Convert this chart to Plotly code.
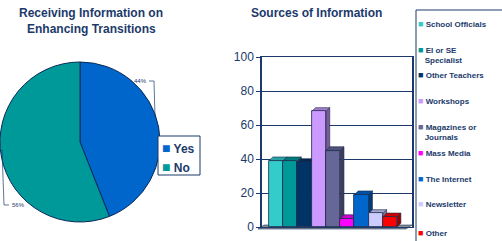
import plotly.graph_objects as go

pie_labels = ["Yes", "No"]
pie_values = [44, 56]
pie_colors = ["#0066CC", "#009999"]

src_names = ["School Officials", "EI or SE<br>Specialist", "Other Teachers", "Workshops",
             "Magazines or<br>Journals", "Mass Media", "The Internet", "Newsletter", "Other"]
src_values = [39, 39, 38, 68, 45, 5, 19, 8, 6]
src_colors = ["#33CCCC", "#009999", "#003366", "#CC99FF", "#666699",
              "#FF00FF", "#0066CC", "#CCCCFF", "#FF0000"]
y_ticks = [0, 20, 40, 60, 80, 100]

NAVY = "#1B3A6B"
FONT = "Liberation Sans"
W, H = 502, 241

def shade(hexc, f):
    h = hexc.lstrip("#")
    r, g, b = (int(h[i:i + 2], 16) for i in (0, 2, 4))
    return "rgb(%d,%d,%d)" % (int(r * f), int(g * f), int(b * f))

def px(x):
    return x / W

def py(y):
    return 1 - y / H

def sq(c, size):
    return f'<span style="color:{c};font-size:{size}px">■</span>'

fig = go.Figure()

fig.add_trace(go.Pie(
    labels=pie_labels, values=pie_values, sort=False, direction="clockwise",
    marker=dict(colors=pie_colors, line=dict(color="#0A2A5A", width=1)),
    textinfo="none", hoverinfo="label+percent",
    domain=dict(x=[0, px(160)], y=[py(222), py(62)]),
    showlegend=False,
))

# pie legend entries (text with coloured square glyph)
for lab, c in zip(pie_labels, pie_colors):
    fig.add_trace(go.Scatter(
        x=[None], y=[None], mode="none", legend="legend2", legendgroup="p" + lab,
        name=f'{sq(c, 14)}<b> {lab}</b>'))

cats = [n.replace("<br>", " ") for n in src_names]
for i, (n, v, c) in enumerate(zip(src_names, src_values, src_colors)):
    fig.add_trace(go.Bar(
        x=[cats[i]], y=[v], name=cats[i], marker=dict(color=c, line=dict(color="#1A2A4A", width=0.8)),
        width=1, showlegend=False, hoverinfo="y"))
    if "<br>" in n:
        first, second = n.split("<br>")
        label = f'{sq(c, 9)}<b> {first}<br>&nbsp;&nbsp; {second}</b>'
    elif i < len(src_names) - 1:
        label = f'{sq(c, 9)}<b> {n}<br>&nbsp;</b>'
    else:
        label = f'{sq(c, 9)}<b> {n}</b>'
    fig.add_trace(go.Scatter(
        x=[None], y=[None], mode="none", legend="legend", legendgroup="g%d" % i, name=label))

# 3D depth faces computed from data
d, e = 0.27, 2.2
shapes = []
for i, (v, c) in enumerate(zip(src_values, src_colors)):
    side = f"M {i+0.5},0 L {i+0.5+d},{e} L {i+0.5+d},{v+e} L {i+0.5},{v} Z"
    top = f"M {i-0.5},{v} L {i-0.5+d},{v+e} L {i+0.5+d},{v+e} L {i+0.5},{v} Z"
    shapes.append(dict(type="path", path=side, xref="x", yref="y", layer="between",
                       fillcolor=shade(c, 0.6), line=dict(color="#1A2A4A", width=0.6)))
    shapes.append(dict(type="path", path=top, xref="x", yref="y", layer="between",
                       fillcolor=shade(c, 0.8), line=dict(color="#1A2A4A", width=0.6)))

annotations = [
    dict(text="<b>Receiving Information on</b>", x=px(91), y=py(13), xref="paper", yref="paper",
         xanchor="center", yanchor="middle", showarrow=False, font=dict(size=12, color=NAVY, family=FONT)),
    dict(text="<b>Enhancing Transitions</b>", x=px(91), y=py(29), xref="paper", yref="paper",
         xanchor="center", yanchor="middle", showarrow=False, font=dict(size=12, color=NAVY, family=FONT)),
    dict(text="<b>Sources of Information</b>", x=px(316), y=py(13), xref="paper", yref="paper",
         xanchor="center", yanchor="middle", showarrow=False, font=dict(size=12, color=NAVY, family=FONT)),
    dict(text="44%", x=px(149), y=py(81), xref="paper", yref="paper", xanchor="right",
         yanchor="middle", showarrow=False, font=dict(size=6, color=NAVY, family=FONT)),
    dict(text="56%", x=px(10), y=py(205), xref="paper", yref="paper", xanchor="left",
         yanchor="middle", showarrow=False, font=dict(size=6, color=NAVY, family=FONT)),
]
shapes += [
    dict(type="path", xref="paper", yref="paper", layer="above",
         path=f"M {px(149)},{py(81)} L {px(154)},{py(81)} L {px(155)},{py(117)}",
         line=dict(color=NAVY, width=0.7)),
    dict(type="path", xref="paper", yref="paper", layer="above",
         path=f"M {px(9)},{py(205)} L {px(4)},{py(205)} L {px(2)},{py(150)}",
         line=dict(color=NAVY, width=0.7)),
    # legend frames
    dict(type="rect", xref="paper", yref="paper", x0=px(416), x1=px(505), y0=py(245), y1=py(10),
         line=dict(color=NAVY, width=1), fillcolor="rgba(0,0,0,0)", layer="below"),
    dict(type="rect", xref="paper", yref="paper", x0=px(158), x1=px(200), y0=py(175), y1=py(136),
         line=dict(color=NAVY, width=1), fillcolor="white", layer="above"),
    # grey floor strip below the bars
    dict(type="path", xref="paper", yref="paper", layer="below",
         path=f"M {px(258)},{py(229)} L {px(406)},{py(229)} L {px(412)},{py(225)} L {px(264)},{py(225)} Z",
         fillcolor="#8A8A8A", line=dict(color=NAVY, width=0.6)),
]

fig.update_layout(
    width=W, height=H, margin=dict(l=0, r=0, t=0, b=0, autoexpand=False),
    paper_bgcolor="white", plot_bgcolor="white",
    barmode="overlay", bargap=0,
    font=dict(family=FONT, color=NAVY),
    xaxis=dict(domain=[px(262), px(412)], type="category", categoryorder="array",
               categoryarray=cats, range=[-0.99, 9.55], showticklabels=False,
               showgrid=False, zeroline=False, showline=True, linecolor=NAVY, linewidth=1,
               mirror=True, ticks=""),
    yaxis=dict(domain=[py(227), py(57)], range=[0, 100], tickvals=y_ticks,
               showgrid=True, gridcolor=NAVY, gridwidth=1, zeroline=False,
               showline=True, linecolor=NAVY, linewidth=1.5, mirror=True,
               ticks="outside", ticklen=4, tickcolor=NAVY,
               tickfont=dict(size=12, color=NAVY, family=FONT), tickprefix="<b>", ticksuffix="</b>"),
    legend=dict(x=px(378), y=py(12), xanchor="left", yanchor="top",
                borderwidth=0, bgcolor="rgba(0,0,0,0)",
                font=dict(size=8, color=NAVY, family=FONT), tracegroupgap=2,
                itemwidth=30, valign="top"),
    legend2=dict(x=px(122), y=py(134), xanchor="left", yanchor="top",
                 borderwidth=0, bgcolor="rgba(0,0,0,0)",
                 font=dict(size=12, color=NAVY, family=FONT), itemwidth=30, tracegroupgap=0),
    shapes=shapes, annotations=annotations,
)

fig.write_html("out.html", config={"displayModeBar": False},
               post_script="document.body.style.margin='0px';")
